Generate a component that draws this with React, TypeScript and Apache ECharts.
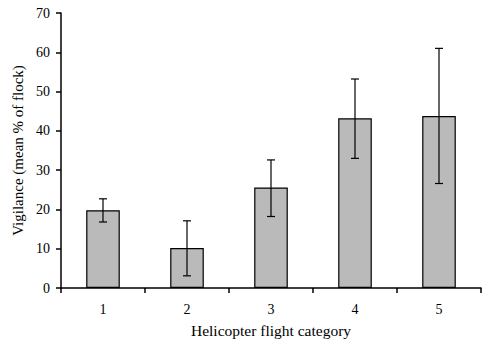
import React, { useEffect, useRef } from "react";
import * as echarts from "echarts";

const categories = ["1", "2", "3", "4", "5"];
const means = [19.8, 10.2, 25.6, 43.2, 43.8];
const errLow = [16.8, 3.1, 18.2, 33.0, 26.6];
const errHigh = [22.7, 17.1, 32.6, 53.2, 61.0];
const yTicks = [0, 10, 20, 30, 40, 50, 60, 70];

export default function App() {
  const ref = useRef<HTMLDivElement>(null);
  useEffect(() => {
    if (!ref.current) return;
    const chart = echarts.init(ref.current, null, { renderer: "svg" });
    const font = "'Liberation Serif', 'Times New Roman', serif";
    chart.setOption({
      animation: false,
      backgroundColor: "#ffffff",
      textStyle: { fontFamily: font, color: "#000" },
      grid: { left: 61, right: 7, top: 13, bottom: 61 },
      xAxis: {
        type: "category",
        data: categories,
        name: "Helicopter flight category",
        nameLocation: "middle",
        nameGap: 34,
        nameTextStyle: { fontFamily: font, fontSize: 15.5, color: "#000" },
        axisLine: { lineStyle: { color: "#000", width: 1.5 } },
        axisTick: { show: true, length: 5, lineStyle: { color: "#000", width: 1.5 } },
        axisLabel: { fontFamily: font, fontSize: 14, color: "#000", margin: 14 },
      },
      yAxis: {
        type: "value",
        min: yTicks[0],
        max: yTicks[yTicks.length - 1],
        interval: 10,
        name: "Vigilance (mean % of flock)",
        nameLocation: "middle",
        nameRotate: 90,
        nameGap: 34,
        nameTextStyle: { fontFamily: font, fontSize: 15, color: "#000" },
        axisLine: { show: true, lineStyle: { color: "#000", width: 1.5 } },
        axisTick: { show: true, length: 5, lineStyle: { color: "#000", width: 1.5 } },
        axisLabel: { fontFamily: font, fontSize: 14, color: "#000", margin: 11 },
        splitLine: { show: false },
      },
      series: [
        {
          type: "bar",
          data: means,
          barWidth: "40%",
          itemStyle: { color: "#bababa", borderColor: "#000", borderWidth: 1.2 },
        },
        {
          type: "custom",
          data: categories.map((_, i) => [i, errLow[i], errHigh[i]]),
          renderItem: (params: any, api: any) => {
            const x = api.value(0);
            const lo = api.coord([x, api.value(1)]);
            const hi = api.coord([x, api.value(2)]);
            const half = 4;
            const style = { stroke: "#000", lineWidth: 1.2, fill: "none" };
            return {
              type: "group",
              children: [
                { type: "line", shape: { x1: hi[0], y1: hi[1], x2: lo[0], y2: lo[1] }, style },
                { type: "line", shape: { x1: hi[0] - half, y1: hi[1], x2: hi[0] + half, y2: hi[1] }, style },
                { type: "line", shape: { x1: lo[0] - half, y1: lo[1], x2: lo[0] + half, y2: lo[1] }, style },
              ],
            };
          },
          z: 10,
        },
      ],
    });
    return () => chart.dispose();
  }, []);
  return <div ref={ref} style={{ width: 488, height: 349, position: "absolute", left: 0, top: 0 }} />;
}
